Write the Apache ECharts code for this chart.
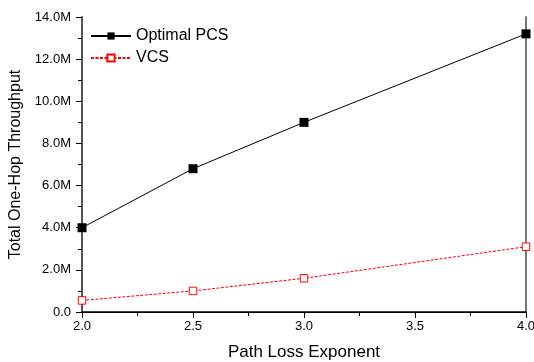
<!DOCTYPE html>
<html>
<head>
<meta charset="utf-8">
<script src="https://cdn.jsdelivr.net/npm/echarts@6/dist/echarts.min.js"></script>
<style>html,body{margin:0;padding:0;background:#fff;overflow:hidden}#c{width:534px;height:362px}</style>
</head>
<body>
<div id="c"></div>
<script>
var pathLoss = [2.0, 2.5, 3.0, 4.0];
var optimalPCS = [4.0, 6.8, 9.0, 13.2];   // millions
var vcs = [0.55, 1.0, 1.6, 3.1];          // millions
var seriesNames = ['Optimal PCS', 'VCS'];

function pairs(xs, ys) { return xs.map(function (x, i) { return [x, ys[i]]; }); }
var FONT = 'Liberation Sans, Arial, sans-serif';

var chart = echarts.init(document.getElementById('c'), null, {renderer: 'canvas'});
chart.setOption({
  animation: false,
  backgroundColor: '#fff',
  grid: {left: 82, right: 8, top: 17, bottom: 50, containLabel: false, outerBoundsMode: 'none'},
  legend: {
    left: 85, top: 23, orient: 'vertical', itemWidth: 40, itemHeight: 9, itemGap: 6,
    textStyle: {fontFamily: FONT, fontSize: 16, color: '#000'},
    data: seriesNames
  },
  xAxis: [{
    type: 'value', min: 2, max: 4, interval: 0.5,
    name: 'Path Loss Exponent', nameLocation: 'middle', nameGap: 32,
    nameTextStyle: {fontFamily: FONT, fontSize: 17, color: '#000'},
    axisLine: {show: true, lineStyle: {color: '#000', width: 1.5}},
    axisTick: {show: true, length: 6, lineStyle: {color: '#000'}},
    minorTick: {show: true, splitNumber: 2, length: 4, lineStyle: {color: '#000'}},
    splitLine: {show: false},
    axisLabel: {fontFamily: FONT, fontSize: 13, color: '#000', margin: 8, hideOverlap: false,
      formatter: function (v) { return v.toFixed(1); }}
  }, {
    type: 'value', min: 2, max: 4, position: 'top',
    axisLine: {show: true, lineStyle: {color: '#000', width: 1.2}},
    axisTick: {show: false}, axisLabel: {show: false}, splitLine: {show: false}
  }],
  yAxis: [{
    type: 'value', min: 0, max: 14, interval: 2,
    name: 'Total One-Hop Throughput', nameLocation: 'middle', nameGap: 55,
    nameTextStyle: {fontFamily: FONT, fontSize: 16, color: '#000'},
    axisLine: {show: true, lineStyle: {color: '#555', width: 2}},
    axisTick: {show: true, length: 6, lineStyle: {color: '#000'}},
    minorTick: {show: true, splitNumber: 2, length: 4, lineStyle: {color: '#000'}},
    splitLine: {show: false},
    axisLabel: {fontFamily: FONT, fontSize: 13, color: '#000', margin: 11,
      formatter: function (v) { return v === 0 ? '0.0' : v.toFixed(1) + 'M'; }}
  }, {
    type: 'value', min: 0, max: 14, position: 'right',
    axisLine: {show: true, lineStyle: {color: '#777', width: 2}},
    axisTick: {show: false}, axisLabel: {show: false}, splitLine: {show: false}
  }],
  series: [{
    name: seriesNames[0], type: 'line', data: pairs(pathLoss, optimalPCS),
    symbol: 'rect', symbolSize: 9,
    lineStyle: {color: '#000', width: 1},
    itemStyle: {color: '#000', borderColor: '#000', borderWidth: 0},
    z: 3
  }, {
    name: seriesNames[1], type: 'line', data: pairs(pathLoss, vcs),
    symbol: 'rect', symbolSize: 7.5,
    lineStyle: {color: '#ff0000', width: 1, type: [3, 1.5]},
    itemStyle: {color: '#fff', borderColor: '#ff0000', borderWidth: 1},
    z: 3
  }]
});
</script>
</body>
</html>
